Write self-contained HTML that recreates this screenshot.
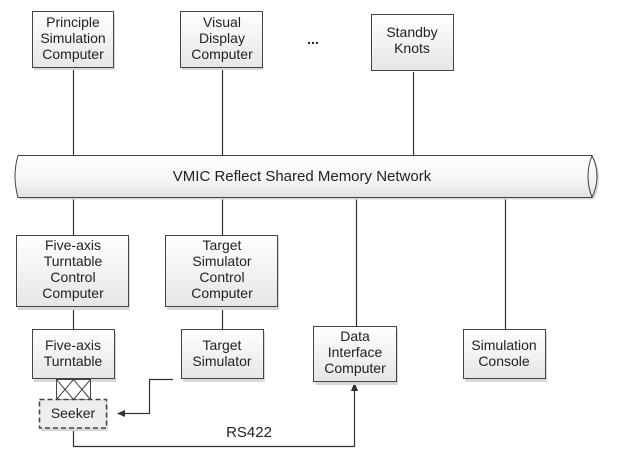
<!DOCTYPE html>
<html><head><meta charset="utf-8"><style>
html,body{margin:0;padding:0;background:#fff;}
svg{display:block;}
text{font-family:"Liberation Sans",sans-serif;font-size:14px;fill:#222;text-anchor:middle;}
</style></head><body>
<svg width="624" height="453" viewBox="0 0 624 453" xmlns="http://www.w3.org/2000/svg">
<defs>
<linearGradient id="g" x1="0" y1="0" x2="0" y2="1"><stop offset="0" stop-color="#ffffff"/><stop offset="1" stop-color="#e6e6e6"/></linearGradient>
<linearGradient id="c" x1="0" y1="0" x2="0" y2="1"><stop offset="0" stop-color="#ffffff"/><stop offset="0.6" stop-color="#f4f4f4"/><stop offset="1" stop-color="#e2e2e2"/></linearGradient>
</defs>
<g stroke="#333" stroke-width="1.2" fill="none">
<line x1="73.5" y1="68" x2="73.5" y2="156"/>
<line x1="222.5" y1="68" x2="222.5" y2="156"/>
<line x1="413.5" y1="72" x2="413.5" y2="156"/>
<line x1="73.5" y1="197" x2="73.5" y2="235"/>
<line x1="222.5" y1="197" x2="222.5" y2="235"/>
<line x1="356.5" y1="197" x2="356.5" y2="326"/>
<line x1="505.5" y1="197" x2="505.5" y2="329"/>
<line x1="73.5" y1="307" x2="73.5" y2="329"/>
<line x1="222.5" y1="307" x2="222.5" y2="329"/>
<polyline points="173,379.5 149.5,379.5 149.5,413.5 124,413.5"/>
<polyline points="73.5,428 73.5,446.5 354.5,446.5 354.5,390"/>
</g>
<polygon points="117,413.5 125,410 125,417" fill="#333"/>
<polygon points="354.5,382 351,391 358,391" fill="#333"/>
<path d="M18,155.5 L592,155.5 Q602,176 592,197.5 L18,197.5 Q12,176 18,155.5 Z" fill="#d8d8d8" transform="translate(2,2)"/>
<path d="M18,155.5 L592,155.5 Q602,176 592,197.5 L18,197.5 Q12,176 18,155.5 Z" fill="url(#c)" stroke="#444" stroke-width="1"/>
<path d="M592,155.5 Q584,176 592,197.5" fill="none" stroke="#444" stroke-width="1"/>
<text x="302" y="181" style="font-size:15px">VMIC Reflect Shared Memory Network</text>
<g stroke="#444" stroke-width="1">
<rect x="34" y="14" width="81" height="56" fill="#d8d8d8" stroke="none"/>
<rect x="32.5" y="11.5" width="81" height="56" fill="url(#g)"/>
<rect x="182" y="14" width="81" height="56" fill="#d8d8d8" stroke="none"/>
<rect x="180.5" y="11.5" width="82" height="56" fill="url(#g)"/>
<rect x="373" y="17" width="81" height="54" fill="#d8d8d8" stroke="none"/>
<rect x="371.5" y="14.5" width="82" height="56" fill="url(#g)"/>
<rect x="18" y="238" width="112" height="72" fill="#d8d8d8" stroke="none"/>
<rect x="16.5" y="235.5" width="112" height="71" fill="url(#g)"/>
<rect x="167" y="238" width="112" height="72" fill="#d8d8d8" stroke="none"/>
<rect x="165.5" y="235.5" width="112" height="71" fill="url(#g)"/>
<rect x="34" y="332" width="82" height="50" fill="#d8d8d8" stroke="none"/>
<rect x="32.5" y="329.5" width="82" height="49" fill="url(#g)"/>
<rect x="183" y="332" width="82" height="50" fill="#d8d8d8" stroke="none"/>
<rect x="181.5" y="329.5" width="82" height="49" fill="url(#g)"/>
<rect x="315" y="329" width="83" height="56" fill="#d8d8d8" stroke="none"/>
<rect x="313.5" y="326.5" width="83" height="55" fill="url(#g)"/>
<rect x="465" y="332" width="82" height="50" fill="#d8d8d8" stroke="none"/>
<rect x="463.5" y="329.5" width="82" height="49" fill="url(#g)"/>
<rect x="56.5" y="379.5" width="34" height="20" fill="#fff"/>
<path d="M56.5,379.5 L73.5,399.5 L90.5,379.5 M56.5,399.5 L73.5,379.5 L90.5,399.5" fill="none"/>
<rect x="41" y="402" width="67" height="29" fill="#d8d8d8" stroke="none"/>
<rect x="39.5" y="399.5" width="67" height="28.5" fill="#eee" stroke-dasharray="5,3" stroke-width="1.5"/>
</g>
<text x="73" y="27">Principle</text><text x="73" y="43">Simulation</text><text x="73" y="59">Computer</text>
<text x="222" y="27">Visual</text><text x="222" y="43">Display</text><text x="222" y="59">Computer</text>
<text x="313" y="44" style="font-weight:bold">...</text>
<text x="412" y="37">Standby</text><text x="412" y="53">Knots</text>
<text x="73" y="250">Five-axis</text><text x="73" y="266">Turntable</text><text x="73" y="282">Control</text><text x="73" y="298">Computer</text>
<text x="222" y="250">Target</text><text x="222" y="266">Simulator</text><text x="222" y="282">Control</text><text x="222" y="298">Computer</text>
<text x="73" y="350">Five-axis</text><text x="73" y="366">Turntable</text>
<text x="222" y="350">Target</text><text x="222" y="366">Simulator</text>
<text x="355" y="341">Data</text><text x="355" y="357">Interface</text><text x="355" y="373">Computer</text>
<text x="504" y="350">Simulation</text><text x="504" y="366">Console</text>
<text x="73" y="418">Seeker</text>
<text x="249" y="437" style="font-size:15px">RS422</text>
</svg>
</body></html>
